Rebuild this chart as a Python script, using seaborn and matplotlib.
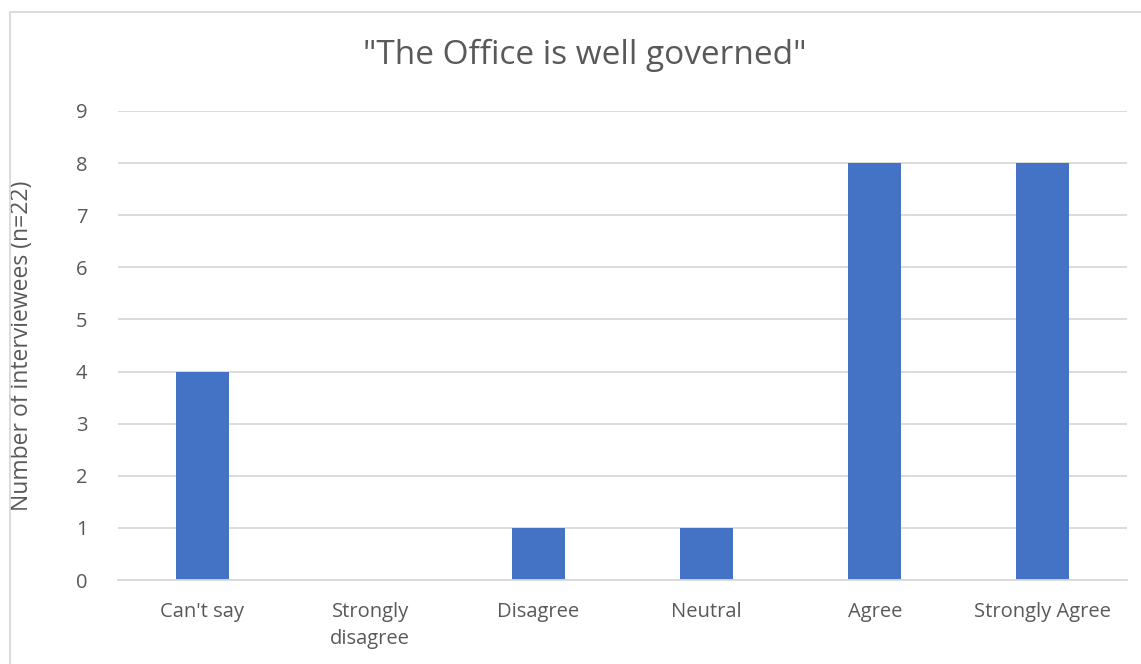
import matplotlib
matplotlib.use("Agg")
import matplotlib.pyplot as plt
import seaborn as sns
import pandas as pd
from matplotlib.patches import Rectangle

categories = ["Can't say", "Strongly\ndisagree", "Disagree", "Neutral", "Agree", "Strongly Agree"]
counts = [4, 0, 1, 1, 8, 8]
y_ticks = [0, 1, 2, 3, 4, 5, 6, 7, 8, 9]
title = '"The Office is well governed"'
y_label = "Number of interviewees (n=22)"

sns.set_theme(style="white")
plt.rcParams["font.family"] = ["Open Sans", "DejaVu Sans"]

text_color = "#595959"
grid_color = "#d9d9d9"
bar_color = "#4472c4"

fig = plt.figure(figsize=(11.41, 6.64), dpi=100)
fig.patch.set_facecolor("white")
ax = fig.add_axes([118 / 1141, 84 / 664, 1009 / 1141, 469 / 664])

df = pd.DataFrame({"category": categories, "count": counts})
sns.barplot(data=df, x="category", y="count", color=bar_color, width=0.315,
            saturation=1, linewidth=0, ax=ax, zorder=3)

ax.set_xlim(-0.5, len(categories) - 0.5)
ax.set_ylim(0, 9)
ax.set_yticks(y_ticks)
ax.set_yticklabels([str(t) for t in y_ticks])
ax.yaxis.grid(True, color=grid_color, linewidth=1.3, zorder=0)
ax.xaxis.grid(False)
for side in ["top", "right", "left"]:
    ax.spines[side].set_visible(False)
ax.spines["bottom"].set_color(grid_color)
ax.spines["bottom"].set_linewidth(1.3)
ax.spines["bottom"].set_zorder(4)
ax.tick_params(axis="both", length=0, colors=text_color, labelsize=14.5)
ax.tick_params(axis="x", pad=16)
ax.tick_params(axis="y", pad=22)
for lbl in ax.get_xticklabels():
    lbl.set_linespacing(1.45)
ax.set_xlabel("")
ax.set_ylabel(y_label, color=text_color, fontsize=16.5, labelpad=30)

fig.text(585 / 1141, 1 - 55 / 664, title, ha="center", va="center",
         fontsize=24, color=text_color)

# chart area frame
fig.patches.append(Rectangle((10 / 1141, -0.05), 1.2, 1 - 12 / 664 + 0.05,
                             transform=fig.transFigure, fill=False,
                             edgecolor=grid_color, linewidth=1.3))

fig.savefig("out.png", dpi=100, facecolor="white")
